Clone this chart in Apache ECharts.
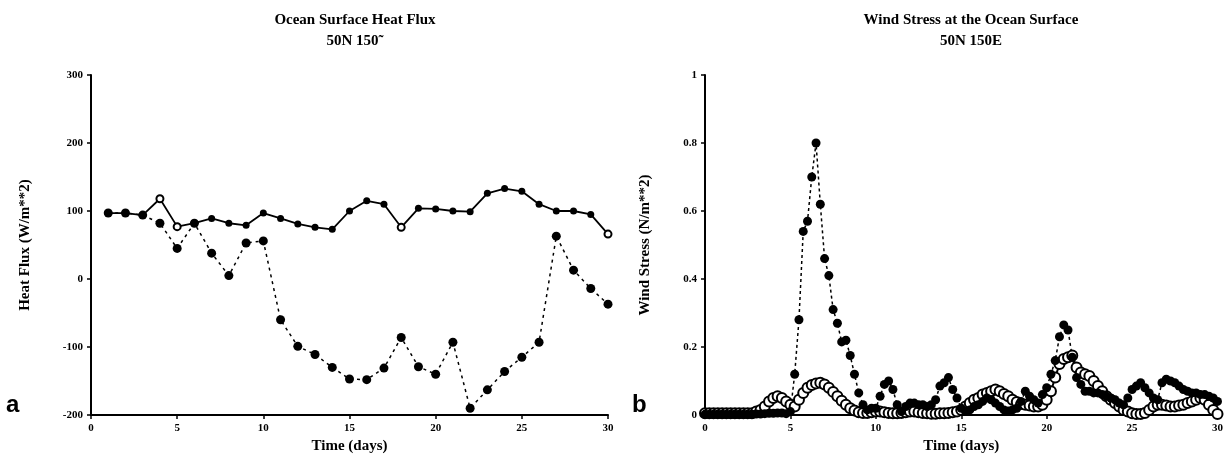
<!DOCTYPE html>
<html>
<head>
<meta charset="utf-8">
<script src="https://cdn.jsdelivr.net/npm/echarts@6/dist/echarts.min.js"></script>
<style>
  html, body { margin: 0; padding: 0; background: #fff; }
  #main { width: 1226px; height: 461px; }
</style>
</head>
<body>
<div id="main"></div>
<script>
// panel a: daily heat flux (W/m**2), days 1..30
var fluxDays = [1,2,3,4,5,6,7,8,9,10,11,12,13,14,15,16,17,18,19,20,21,22,23,24,25,26,27,28,29,30];
var fluxSolid = [97,97,94,118,77,82,89,82,79,97,89,81,76,73,100,115,110,76,104,103,100,99,126,133,129,110,100,100,95,66];
var fluxDashed = [97,97,94,82,45,82,38,5,53,56,-60,-99,-111,-130,-147,-148,-131,-86,-129,-140,-93,-190,-163,-136,-115,-93,63,13,-14,-37];
var fluxOpenDays = [4,5,18,30];

// panel b: wind stress (N/m**2), 6-hourly samples from day 0 to day 30
var stressStepDays = 0.25;
var stressSolid = [
  0.005,0.005,0.005,0.005,0.005,0.005,0.005,0.005,0.005,0.005,0.005,0.005,
  0.01,0.015,0.025,0.04,0.05,0.055,0.05,0.04,0.03,0.025,0.045,0.065,
  0.08,0.088,0.093,0.095,0.09,0.08,0.068,0.055,0.042,0.03,0.02,0.013,
  0.008,0.006,0.006,0.008,0.01,0.01,0.008,0.006,0.005,0.005,0.006,0.008,
  0.01,0.01,0.008,0.006,0.005,0.004,0.004,0.005,0.005,0.006,0.008,0.01,
  0.015,0.025,0.035,0.045,0.05,0.06,0.065,0.07,0.075,0.07,0.062,0.055,
  0.045,0.038,0.032,0.03,0.028,0.025,0.025,0.03,0.045,0.07,0.11,0.15,
  0.165,0.17,0.175,0.14,0.125,0.12,0.115,0.1,0.085,0.07,0.055,0.045,
  0.035,0.025,0.015,0.01,0.005,0.003,0.003,0.006,0.015,0.025,0.03,0.03,
  0.028,0.025,0.025,0.028,0.03,0.035,0.04,0.045,0.05,0.045,0.03,0.015,
  0.003
];
var stressDashed = [
  0.002,0.002,0.002,0.002,0.002,0.002,0.002,0.002,0.002,0.002,0.002,0.002,
  0.003,0.003,0.004,0.005,0.005,0.006,0.006,0.004,0.01,0.12,0.28,0.54,
  0.57,0.70,0.80,0.62,0.46,0.41,0.31,0.27,0.215,0.22,0.175,0.12,
  0.065,0.03,0.015,0.02,0.02,0.055,0.09,0.1,0.075,0.03,0.01,0.025,
  0.035,0.035,0.03,0.03,0.025,0.03,0.045,0.085,0.095,0.11,0.075,0.05,
  0.02,0.01,0.015,0.025,0.03,0.04,0.05,0.045,0.035,0.025,0.015,0.012,
  0.015,0.02,0.04,0.07,0.055,0.045,0.035,0.06,0.08,0.12,0.16,0.23,
  0.265,0.25,0.17,0.11,0.09,0.07,0.07,0.065,0.065,0.06,0.055,0.05,
  0.045,0.035,0.03,0.05,0.075,0.085,0.095,0.08,0.065,0.05,0.045,0.095,
  0.105,0.1,0.095,0.085,0.075,0.07,0.065,0.065,0.06,0.06,0.055,0.05,
  0.04
];

var serif = '"Liberation Serif", "DejaVu Serif", serif';

function pairDays(days, vals) {
  var out = [];
  for (var i = 0; i < vals.length; i++) {
    out.push([days[i], vals[i]]);
  }
  return out;
}

function pairStep(step, vals) {
  var out = [];
  for (var i = 0; i < vals.length; i++) {
    out.push([i * step, vals[i]]);
  }
  return out;
}

// open markers on the solid heat-flux line
var fluxSolidData = pairDays(fluxDays, fluxSolid).map(function(p) {
  if (fluxOpenDays.indexOf(p[0]) != -1) {
    return { value: p, symbol: 'emptyCircle' };
  }
  return { value: p };
});

var axisLine = { show: true, onZero: false, lineStyle: { color: '#000', width: 2 } };
var axisTick = { show: true, length: 4, lineStyle: { color: '#000', width: 1.5 } };
var tickLabel = { color: '#000', fontFamily: serif, fontWeight: 'bold', fontSize: 11 };
var nameStyle = { color: '#000', fontFamily: serif, fontWeight: 'bold', fontSize: 15 };

var option = {
  animation: false,
  backgroundColor: '#fff',
  title: [{
    text: 'Ocean Surface Heat Flux\n50N 150˜',
    left: 350,
    top: 5,
    textAlign: 'center',
    textStyle: { color: '#000', fontFamily: serif, fontWeight: 'bold', fontSize: 15, lineHeight: 21 }
  }, {
    text: 'Wind Stress at the Ocean Surface\n50N 150E',
    left: 966,
    top: 5,
    textAlign: 'center',
    textStyle: { color: '#000', fontFamily: serif, fontWeight: 'bold', fontSize: 15, lineHeight: 21 }
  }],
  graphic: [{
    type: 'text', left: 6, top: 393,
    style: { text: 'a', fill: '#000', font: 'bold 24px "Liberation Sans", Arial, sans-serif' }
  }, {
    type: 'text', left: 632, top: 393,
    style: { text: 'b', fill: '#000', font: 'bold 24px "Liberation Sans", Arial, sans-serif' }
  }],
  grid: [
    { left: 91, right: 618, top: 75, bottom: 46 },
    { left: 705, right: 6, top: 75, bottom: 46 }
  ],
  xAxis: [{
    gridIndex: 0, type: 'value', min: 0, max: 30, interval: 5,
    name: 'Time (days)', nameLocation: 'middle', nameGap: 22, nameTextStyle: nameStyle,
    axisLine: axisLine, axisTick: axisTick, axisLabel: tickLabel, splitLine: { show: false }
  }, {
    gridIndex: 1, type: 'value', min: 0, max: 30, interval: 5,
    name: 'Time (days)', nameLocation: 'middle', nameGap: 22, nameTextStyle: nameStyle,
    axisLine: axisLine, axisTick: axisTick, axisLabel: tickLabel, splitLine: { show: false }
  }],
  yAxis: [{
    gridIndex: 0, type: 'value', min: -200, max: 300, interval: 100,
    name: 'Heat Flux (W/m**2)', nameLocation: 'middle', nameGap: 58, nameTextStyle: nameStyle,
    axisLine: axisLine, axisTick: axisTick, axisLabel: tickLabel, splitLine: { show: false }
  }, {
    gridIndex: 1, type: 'value', min: 0, max: 1, interval: 0.2,
    name: 'Wind Stress (N/m**2)', nameLocation: 'middle', nameGap: 52, nameTextStyle: nameStyle,
    axisLine: axisLine, axisTick: axisTick, axisLabel: tickLabel, splitLine: { show: false }
  }],
  series: [{
    name: 'flux dashed', type: 'line', xAxisIndex: 0, yAxisIndex: 0,
    data: pairDays(fluxDays, fluxDashed),
    symbol: 'circle', symbolSize: 9,
    lineStyle: { color: '#000', width: 1.5, type: [3, 4] },
    itemStyle: { color: '#000' }
  }, {
    name: 'flux solid', type: 'line', xAxisIndex: 0, yAxisIndex: 0,
    data: fluxSolidData,
    symbol: 'circle', symbolSize: 7,
    lineStyle: { color: '#000', width: 1.8 },
    itemStyle: { color: '#000', borderWidth: 1.5 }
  }, {
    name: 'stress solid', type: 'line', xAxisIndex: 1, yAxisIndex: 1,
    data: pairStep(stressStepDays, stressSolid),
    symbol: 'emptyCircle', symbolSize: 10, showAllSymbol: true,
    lineStyle: { color: '#000', width: 2 },
    itemStyle: { color: '#000', borderWidth: 3.5 }
  }, {
    name: 'stress dashed', type: 'line', xAxisIndex: 1, yAxisIndex: 1,
    data: pairStep(stressStepDays, stressDashed),
    symbol: 'circle', symbolSize: 9, showAllSymbol: true,
    lineStyle: { color: '#000', width: 1.5, type: [3, 3] },
    itemStyle: { color: '#000' }
  }]
};

var myChart = echarts.init(document.getElementById('main'));
myChart.setOption(option);
</script>
</body>
</html>
